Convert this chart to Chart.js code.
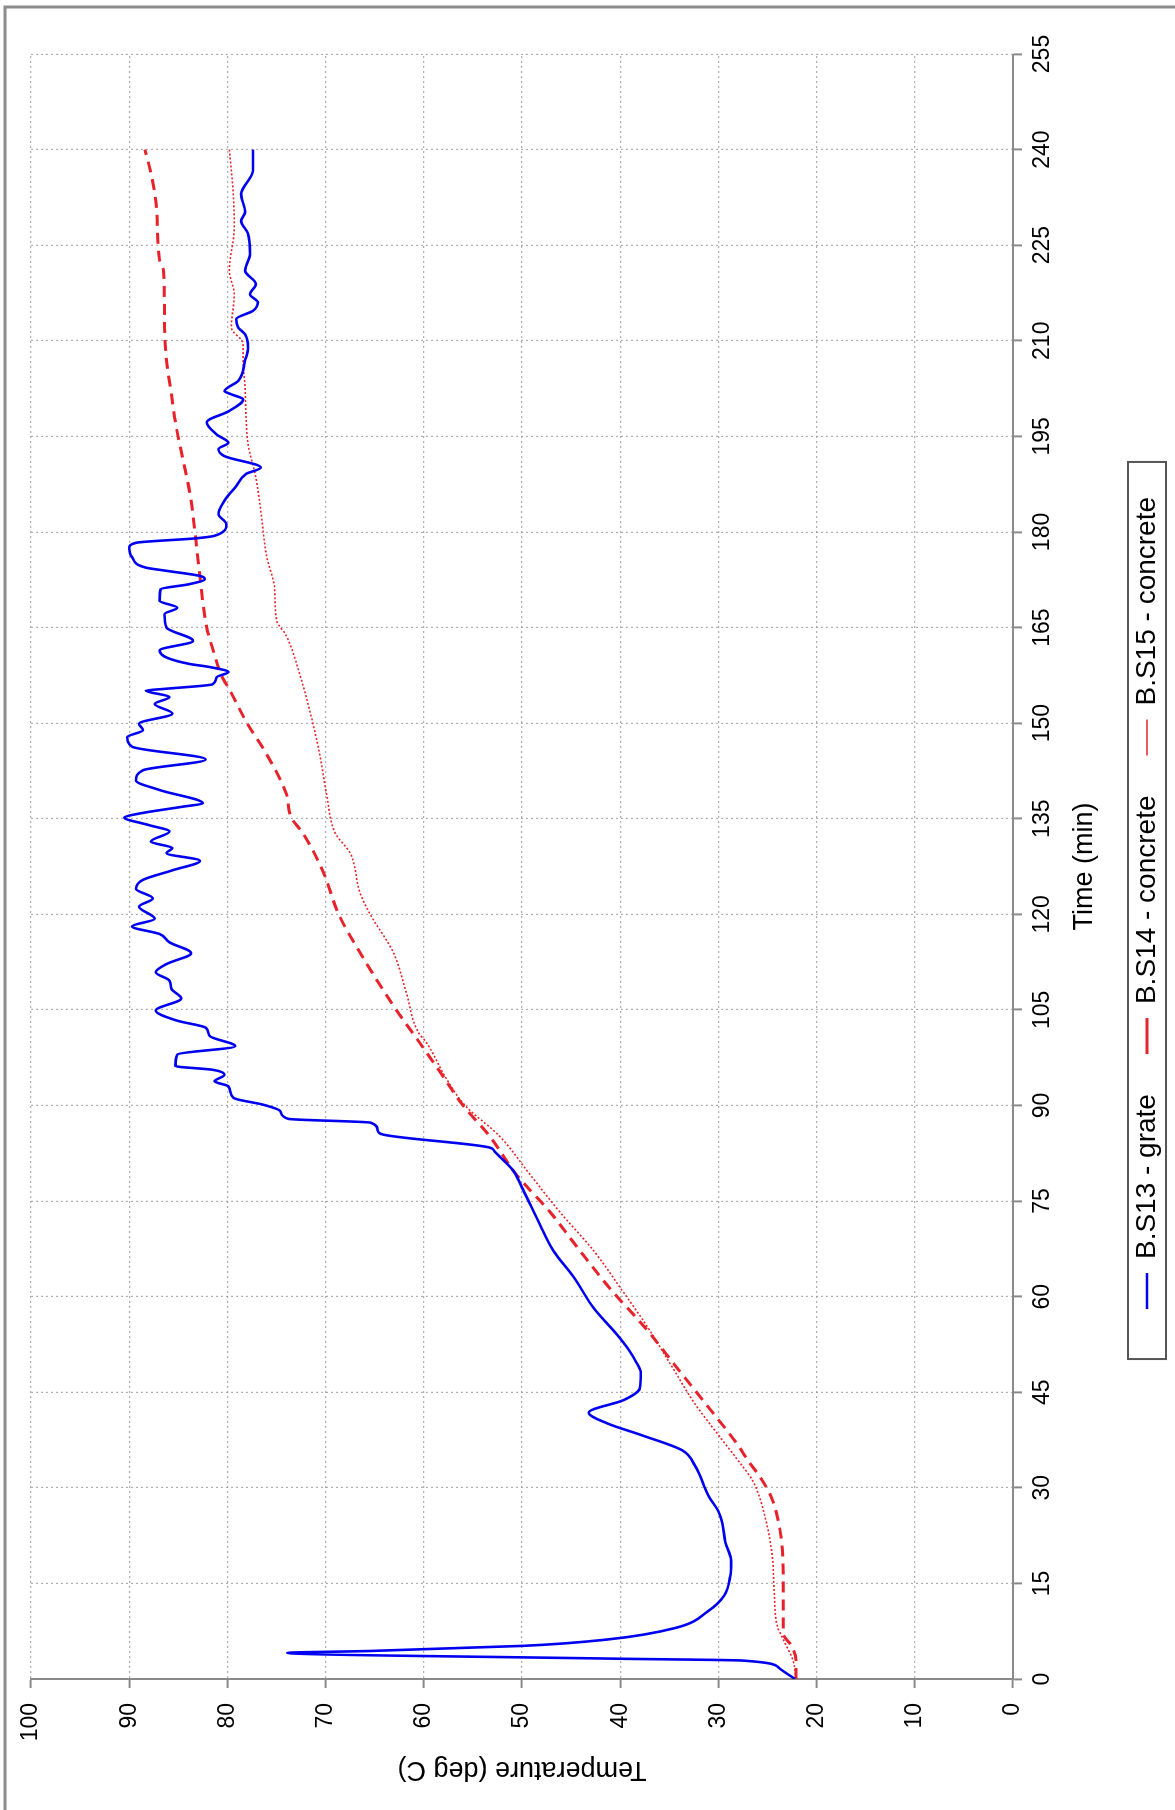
<!DOCTYPE html>
<html>
<head>
<meta charset="utf-8">
<script src="https://cdn.jsdelivr.net/npm/chart.js@4.4.0/dist/chart.umd.min.js"></script>
<style>
  html, body { margin: 0; padding: 0; background: #fff; overflow: hidden; }
  /* chart is drawn upright, then turned a quarter to the left like the scan */
  #wrap { position: absolute; left: 0; top: 0; width: 1810px; height: 1175px;
          transform-origin: 0 0; transform: translateY(1810px) rotate(-90deg); }
</style>
</head>
<body>
<div id="wrap"><canvas id="chart" width="1810" height="1175"></canvas></div>
<script>
const seriesNames = ['B.S13 - grate', 'B.S14 - concrete', 'B.S15 - concrete']

// B.S13 - grate
const grateTime = [0,1.7,2.9,3.2,4.1,4.4,5.2,6.2,8,10.7,13.1,16.1,18.5,21.5,24.5,26.3,28.7,33.5,35.9,38.3,
  40.1,41.8,43.8,45.6,48,49.8,51.6,54,58.2,63,67.2,71.4,76.8,79.8,82.8,83.4,85.5,86.1,87.3,87.9,
  89.1,90.1,91.2,93,93.8,94.8,95.6,96.2,98,99.3,100.9,102.2,103.3,104.9,106.8,108.3,109.6,110.9,112.2,113.9,
  115.6,116.9,118.1,119.3,121.2,122.5,124,125.4,126.9,128.4,129.6,130.4,131.4,133,134,135.2,135.8,136.9,137.4,139.5,
  141,142.6,144.3,146.3,147.8,148.9,149.9,151.5,153,154.1,155.1,155.4,156.1,157.2,158,158.8,159.3,160.3,161.4,162.9,
  165,167.1,168.1,169.2,171,171.8,172.6,173.1,173.9,174.4,176,177.5,178.3,179,179.4,181.2,182.8,184.9,187.2,189.1,
  190.1,191.9,193,194,195.3,197.2,199,200.8,201.6,202.1,203.7,206.9,209,211,212.1,213.4,214.7,216,217.3,218.9,
  221,223.6,226.8,228.8,230.2,233,236.7,240]
const grateTemp = [22.2,23.8,27.6,41,73.9,65.4,49.9,41.3,34.4,31,29.4,28.8,28.7,29.3,29.6,30,31,32.4,33.7,37.9,
  41.3,43.2,39.6,38,37.9,38.4,39.1,40.3,42.7,44.7,46.8,48.2,49.9,50.9,52.8,53.3,64.3,64.7,65.4,73.8,
  74.6,76.3,79.4,79.9,81.3,80.3,81.5,85.3,85.1,79.2,81.8,82.2,85.1,87.3,84.7,85.7,85.9,87.3,86.2,83.7,
  85.9,86.9,89.7,87.4,89,87.6,89.3,88.6,85.6,82.8,86.2,85.6,87.8,85.9,88,90.5,89,84.5,82.5,86.9,
  89.3,88.6,82.2,89.7,90.2,88.6,89,85.6,87.4,85.9,88.3,86.2,81.5,81.1,79.9,81.8,83.9,86.2,86.9,83.5,
  86.2,86.4,85.1,86.9,86.8,83.9,82.3,82.8,86.2,88.3,89.7,90,89.3,83.2,81.3,80.1,80.9,80.3,79.1,78.1,
  76.6,80.3,80.9,79.9,81.1,82.1,79.8,78.4,79.6,80.3,78.9,78.2,77.9,78.2,78.9,79.1,77.4,76.9,77.7,77.1,
  78.2,77.7,77.9,78.6,78.2,78.6,77.4,77.4]

// B.S14 - concrete
const s14Time = [0,2.9,5.3,7.1,10.1,16.1,22.1,28.1,31.1,34.1,37.1,43.2,49.2,55.2,61.2,67.2,73.2,79.2,85.2,90,
  95.4,99.8,105,114,120.1,126.5,132.7,135.2,138.9,145.1,150,155,157.5,161.2,165,173,180,185.9,191.2,196.4,
  201.6,206.9,212.1,221,222.6,230.4,235.7,240]
const s14Temp = [22.1,22.1,22.6,23.4,23.4,23.4,23.6,24.5,25.5,26.9,28.2,31.3,34.4,37.5,41,44.1,47.1,50.6,53.3,56,
  58.4,60.4,62.8,66.5,68.7,70.2,72.3,73.5,74,76,78,79.7,80.6,81.4,82.1,82.8,83.3,83.8,84.5,85.2,
  85.7,86.2,86.4,86.5,86.9,87.2,87.7,88.4]

// B.S15 - concrete
const s15Time = [0,2.9,5.9,8.3,13.1,19.1,25.1,31.1,34.1,38.3,43.2,49.2,55.2,61.2,67.2,73.2,79.2,85.2,90,94.2,
  99.8,101.6,107.8,114,120.1,123.4,129.6,132.7,138.9,145.1,150,157.5,163.7,166.2,171.2,176.1,178.1,183.3,188.5,193.8,
  198,202.7,206.9,209.5,212.1,217.3,221,227.8,233,240]
const s15Temp = [22.1,22.4,23.3,24,24.3,24.5,25.2,26.5,27.9,30,32.4,34.8,37.2,39.9,42.7,46.1,49.2,52.3,55.8,57.7,
  59.7,60.6,61.8,63.1,65.5,66.5,67.5,69,69.9,70.6,71.3,72.6,74,75,75.2,76,76.2,76.6,77.1,77.9,
  78.1,78.2,78.4,78.4,79.6,79.3,79.8,79.3,79.4,79.8]

const pairs = (xs, ys) => xs.map((x, i) => ({ x: x, y: ys[i] }))

const gridColor = 'rgba(150,150,150,0.75)'
const axisColor = '#8a8a8a'

Chart.defaults.font.family = "'Liberation Sans', Arial, sans-serif"
Chart.defaults.color = '#000'

// outer frame of the scan and the box round the legend
const framePlugin = {
  id: 'frame',
  afterDraw(chart) {
    const ctx = chart.ctx
    ctx.save()
    ctx.strokeStyle = '#8c8c8c'
    ctx.lineWidth = 3
    ctx.beginPath()
    ctx.moveTo(0, 5)
    ctx.lineTo(1803, 5)
    ctx.lineTo(1803, 1175)
    ctx.stroke()

    const boxes = chart.legend.legendHitBoxes
    if (boxes && boxes.length) {
      const first = boxes[0]
      const last = boxes[boxes.length - 1]
      const cy = first.top + first.height / 2
      const x0 = first.left - 50
      const x1 = last.left + last.width + 35
      ctx.strokeStyle = '#555'
      ctx.lineWidth = 2
      ctx.strokeRect(x0, cy - 19, x1 - x0, 38)
    }
    ctx.restore()
  }
}

const chart = new Chart(document.getElementById('chart'), {
  type: 'line',
  data: {
    datasets: [{
      label: seriesNames[0],
      data: pairs(grateTime, grateTemp),
      borderColor: '#0000f0',
      borderWidth: 2.6,
      cubicInterpolationMode: 'monotone'
    }, {
      label: seriesNames[1],
      data: pairs(s14Time, s14Temp),
      borderColor: '#e8222a',
      borderWidth: 3,
      borderDash: [11, 7],
      cubicInterpolationMode: 'monotone'
    }, {
      label: seriesNames[2],
      data: pairs(s15Time, s15Temp),
      borderColor: '#e8222a',
      borderWidth: 1.6,
      borderDash: [2, 2],
      cubicInterpolationMode: 'monotone'
    }]
  },
  options: {
    responsive: false,
    animation: false,
    events: [],
    elements: { point: { radius: 0 } },
    layout: { padding: { left: 58, top: 31, right: 54, bottom: 4 } },
    scales: {
      x: {
        type: 'linear',
        min: 0,
        max: 255,
        ticks: { stepSize: 15, autoSkip: false, maxRotation: 0, padding: 7, font: { size: 23 } },
        grid: { color: gridColor, lineWidth: 1.2, tickLength: 9, tickColor: axisColor, tickWidth: 2, tickBorderDash: [] },
        border: { display: true, color: axisColor, width: 2, dash: [2, 3] },
        title: { display: true, text: 'Time (min)', font: { size: 27 }, padding: { top: 0, bottom: -8 } },
        afterFit(scale) { scale.height = 80 }
      },
      y: {
        min: 0,
        max: 100,
        ticks: { stepSize: 10, padding: 15, font: { size: 23 } },
        grid: { color: gridColor, lineWidth: 1.2, tickLength: 9, tickColor: axisColor, tickWidth: 2, tickBorderDash: [] },
        border: { display: true, color: axisColor, width: 2, dash: [2, 3] },
        title: { display: true, text: 'Temperature (deg C)', font: { size: 27 }, padding: { top: -34, bottom: 0 } },
        afterFit(scale) { scale.width = 73 }
      }
    },
    plugins: {
      legend: {
        position: 'bottom',
        labels: { usePointStyle: true, pointStyle: 'line', pointStyleWidth: 36, padding: 40, font: { size: 28 } }
      },
      tooltip: { enabled: false }
    }
  },
  plugins: [framePlugin]
})
</script>
</body>
</html>
